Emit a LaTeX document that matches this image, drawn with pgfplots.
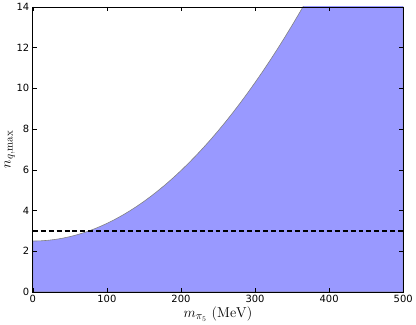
\documentclass[border=0pt]{standalone}
\usepackage[no-math]{fontspec}
\setmainfont{DejaVu Sans}
\usepackage{pgfplots}
\pgfplotsset{compat=1.18}
\definecolor{fillblue}{RGB}{153,153,255}
\begin{document}
\begin{tikzpicture}
\begin{axis}[
 scale only axis,
 width=373pt, height=287pt,
 xmin=0, xmax=500, ymin=0, ymax=14,
 xtick={0,100,...,500}, ytick={0,2,...,14},
 tick align=inside,
 major tick length=4pt,
 tick style={black, line width=0.5pt},
 axis line style={black, line width=0.8pt},
 axis on top,
 ticklabel style={font=\fontsize{10}{12}\selectfont},
 /pgf/number format/assume math mode=true,
 xlabel={$m_{\pi_5}\ (\mathrm{MeV})$},
 ylabel={$n_{q,\mathrm{max}}$},
 label style={font=\fontsize{15}{17}\selectfont},
 xlabel style={yshift=3pt},
 ylabel style={yshift=-5pt},
]
\addplot[draw=gray, line width=0.6pt, fill=fillblue] coordinates {
 (0,2.500) (10,2.509) (20,2.535) (30,2.578) (40,2.638) (50,2.716)
 (60,2.811) (70,2.924) (80,3.054) (90,3.201) (100,3.365) (110,3.547)
 (120,3.746) (130,3.962) (140,4.195) (150,4.446) (160,4.714) (170,5.000)
 (180,5.303) (190,5.623) (200,5.960) (210,6.315) (220,6.687) (230,7.076)
 (240,7.482) (250,7.906) (260,8.347) (270,8.806) (280,9.282) (290,9.775)
 (300,10.285) (310,10.813) (320,11.358) (330,11.920) (340,12.499)
 (350,13.096) (360,13.710) (370,14.342) (380,14.990) (400,16.34) (500,24.10)
} \closedcycle;
\addplot[black, line width=1.3pt, dash pattern=on 5pt off 3pt] coordinates {
 (0,3) (500,3)
};
\end{axis}
% small margin left of the y label
\path (current axis.west) ++(-33pt,0) coordinate (padL);
\useasboundingbox (current bounding box.north east) rectangle (padL |- current bounding box.south);
\end{tikzpicture}
\end{document}
